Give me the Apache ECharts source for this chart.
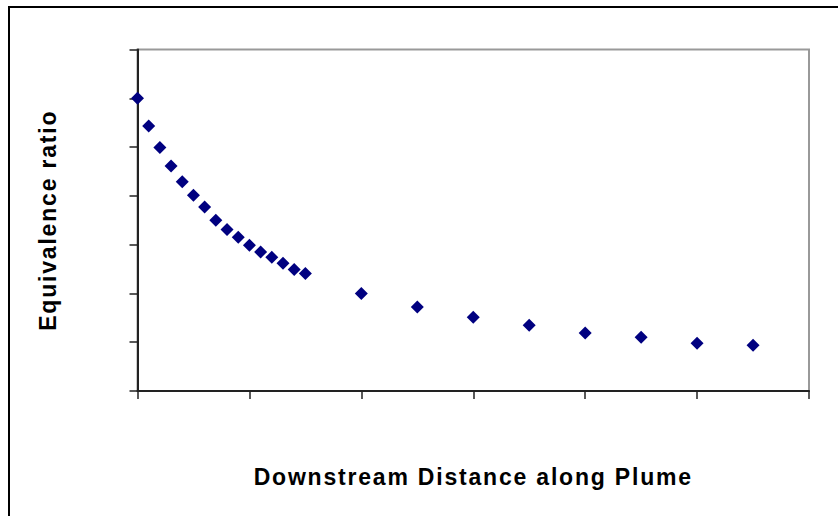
<!DOCTYPE html>
<html>
<head>
<meta charset="utf-8">
<script src="https://cdn.jsdelivr.net/npm/echarts@6/dist/echarts.min.js"></script>
<style>
  html, body { margin: 0; padding: 0; background: #fff; }
  #chart { width: 838px; height: 516px; }
  #chart text { letter-spacing: 1.8px; }
</style>
</head>
<body>
<div id="chart"></div>
<script>
// Downstream distance (arbitrary units) and equivalence ratio (no labels in original)
const distance = [0, 0.1, 0.2, 0.3, 0.4, 0.5, 0.6, 0.7, 0.8, 0.9, 1.0, 1.1, 1.2, 1.3, 1.4, 1.5,
                  2.0, 2.5, 3.0, 3.5, 4.0, 4.5, 5.0, 5.5];
const ratio = [6.00, 5.43, 4.99, 4.61, 4.29, 4.01, 3.77, 3.50, 3.31, 3.15, 2.99, 2.85, 2.74, 2.62, 2.49, 2.41,
               2.00, 1.72, 1.51, 1.35, 1.19, 1.10, 0.98, 0.94];
const xTitle = 'Downstream Distance along Plume';
const yTitle = 'Equivalence ratio';

const points = distance.map((d, i) => [d, ratio[i]]);

const chart = echarts.init(document.getElementById('chart'), null, { renderer: 'svg' });
chart.setOption({
  animation: false,
  backgroundColor: '#fff',
  grid: {
    left: 137.5, right: 29, top: 49.5, bottom: 125,
    show: true, borderColor: '#999', borderWidth: 2, backgroundColor: 'transparent'
  },
  xAxis: {
    type: 'value', min: 0, max: 6, interval: 1,
    name: xTitle, nameLocation: 'middle', nameGap: 74,
    nameTextStyle: { fontFamily: 'Liberation Sans', fontWeight: 'bold', fontSize: 23, color: '#000' },
    axisLine: { show: true, onZero: false, lineStyle: { color: '#222', width: 2 } },
    axisTick: { show: true, inside: false, length: 8, lineStyle: { color: '#222', width: 1.5 } },
    axisLabel: { show: false },
    splitLine: { show: false }
  },
  yAxis: {
    type: 'value', min: 0, max: 7, interval: 1,
    name: yTitle, nameLocation: 'middle', nameGap: 78, nameRotate: 90,
    nameTextStyle: { fontFamily: 'Liberation Sans', fontWeight: 'bold', fontSize: 23, color: '#000' },
    axisLine: { show: true, onZero: false, lineStyle: { color: '#222', width: 2 } },
    axisTick: { show: true, inside: false, length: 8, lineStyle: { color: '#222', width: 1.5 } },
    axisLabel: { show: false },
    splitLine: { show: false }
  },
  graphic: [{
    type: 'rect', silent: true,
    shape: { x: 9, y: 7, width: 900, height: 600 },
    style: { fill: 'none', stroke: '#000', lineWidth: 2 }
  }],
  series: [{
    type: 'scatter',
    data: points,
    symbol: 'diamond',
    symbolSize: 13,
    itemStyle: { color: '#000080', opacity: 1 }
  }]
});
</script>
</body>
</html>
